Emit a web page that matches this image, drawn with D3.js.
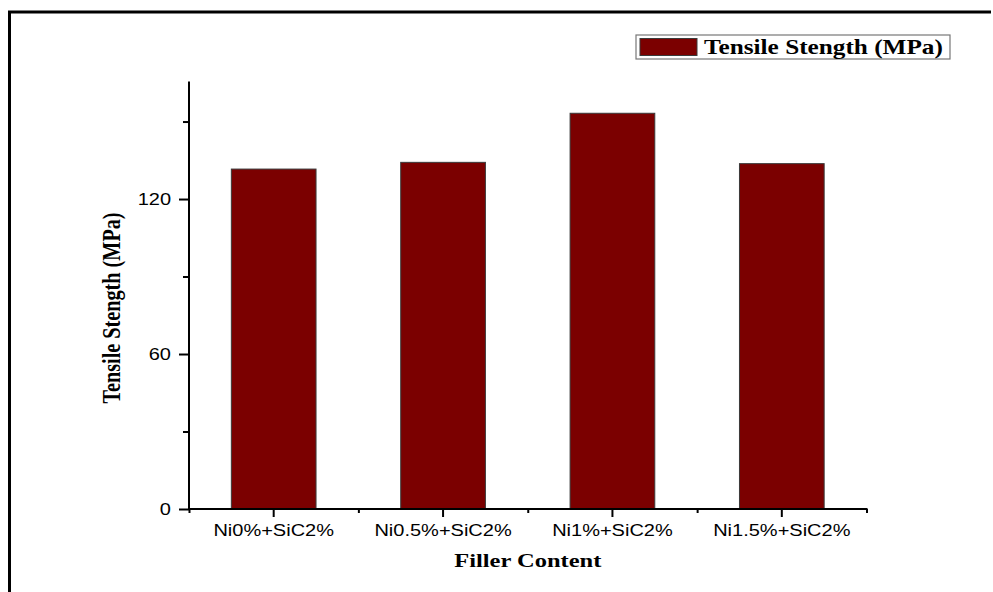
<!DOCTYPE html>
<html>
<head>
<meta charset="utf-8">
<script src="https://cdn.jsdelivr.net/npm/d3@7"></script>
<style>
  body { margin: 0; background: #fff; }
  svg { display: block; }
</style>
</head>
<body>
<svg id="chart" width="993" height="592"></svg>
<script>
const categories = ["Ni0%+SiC2%", "Ni0.5%+SiC2%", "Ni1%+SiC2%", "Ni1.5%+SiC2%"]
const strengthValues = [131.6, 134.2, 153.2, 133.7]
const yMajorTicks = [0, 60, 120]
const yMinorTicks = [30, 90, 150]
const seriesName = "Tensile Stength (MPa)"
const xTitle = "Filler Content"
const yTitle = "Tensile Stength (MPa)"

const svg = d3.select("#chart")
const sansFont = "'Liberation Sans', Arial, sans-serif"
const serifFont = "'Liberation Serif', 'Times New Roman', serif"
const stretch = 1.25 // glyphs in the source are widened horizontally
const barColor = "#7b0000"

const plot = { left: 189, right: 866.5, top: 81.5, bottom: 509 }

// page frame
svg.append("path")
  .attr("d", "M9.5,592 V12 H991")
  .attr("fill", "none")
  .attr("stroke", "#000")
  .attr("stroke-width", 3)

const x = d3.scaleBand()
  .domain(categories)
  .range([plot.left, plot.right])
  .paddingInner(0.5)
  .paddingOuter(0.25)

const xEdges = d3.scaleLinear()
  .domain([0, categories.length])
  .range([plot.left, plot.right])

const y = d3.scaleLinear()
  .domain([0, 165.5])
  .range([plot.bottom, plot.top])

// bars
svg.append("g")
  .selectAll("rect")
  .data(categories)
  .join("rect")
  .attr("x", (d) => x(d))
  .attr("y", (d, i) => y(strengthValues[i]))
  .attr("width", x.bandwidth())
  .attr("height", (d, i) => y(0) - y(strengthValues[i]))
  .attr("fill", barColor)
  .attr("stroke", "#3a3a3a")
  .attr("stroke-width", 1)

// x axis
let g_x = svg.append("g").attr("transform", `translate(0,${plot.bottom})`)
g_x.call(d3.axisBottom(x).tickSize(8).tickSizeOuter(0))
g_x.select(".domain").remove()
g_x.selectAll(".tick line").attr("stroke", "#000").attr("stroke-width", 2)
g_x.selectAll(".tick text")
  .attr("y", 27)
  .attr("dy", 0)
  .attr("font-family", sansFont)
  .attr("font-size", 16)
  .attr("fill", "#000")
  .attr("transform", `scale(${stretch},1)`)

let g_x_minor = svg.append("g").attr("transform", `translate(0,${plot.bottom})`)
g_x_minor.call(d3.axisBottom(xEdges).tickValues(d3.range(categories.length + 1)).tickSize(4).tickSizeOuter(0).tickFormat(""))
g_x_minor.select(".domain").remove()
g_x_minor.selectAll(".tick line").attr("stroke", "#000").attr("stroke-width", 2)

svg.append("line")
  .attr("x1", plot.left - 1)
  .attr("x2", plot.right + 1)
  .attr("y1", plot.bottom)
  .attr("y2", plot.bottom)
  .attr("stroke", "#000")
  .attr("stroke-width", 2)

// y axis
let g_y = svg.append("g").attr("transform", `translate(${plot.left},0)`)
g_y.call(d3.axisLeft(y).tickValues(yMajorTicks).tickSize(10).tickSizeOuter(0))
g_y.select(".domain").remove()
g_y.selectAll(".tick line").attr("stroke", "#000").attr("stroke-width", 2)
g_y.selectAll(".tick text")
  .attr("x", -18 / stretch)
  .attr("font-family", sansFont)
  .attr("font-size", 16)
  .attr("fill", "#000")
  .attr("transform", `scale(${stretch},1)`)

let g_y_minor = svg.append("g").attr("transform", `translate(${plot.left},0)`)
g_y_minor.call(d3.axisLeft(y).tickValues(yMinorTicks).tickSize(6).tickSizeOuter(0).tickFormat(""))
g_y_minor.select(".domain").remove()
g_y_minor.selectAll(".tick line").attr("stroke", "#000").attr("stroke-width", 2)

svg.append("line")
  .attr("x1", plot.left)
  .attr("x2", plot.left)
  .attr("y1", plot.top)
  .attr("y2", plot.bottom + 1)
  .attr("stroke", "#000")
  .attr("stroke-width", 2)

// axis titles
svg.append("text")
  .attr("transform", `translate(${(plot.left + plot.right) / 2},567) scale(${stretch},1)`)
  .attr("text-anchor", "middle")
  .attr("font-family", serifFont)
  .attr("font-weight", "bold")
  .attr("font-size", 19.6)
  .text(xTitle)

svg.append("text")
  .attr("transform", `translate(120,308) scale(${stretch},1) rotate(-90)`)
  .attr("text-anchor", "middle")
  .attr("font-family", serifFont)
  .attr("font-weight", "bold")
  .attr("font-size", 20.2)
  .text(yTitle)

// legend
let legend = svg.append("g").attr("class", "legend")
legend.append("rect")
  .attr("x", 636)
  .attr("y", 35)
  .attr("width", 314)
  .attr("height", 24)
  .attr("fill", "#fff")
  .attr("stroke", "#777")
  .attr("stroke-width", 1.2)
legend.append("rect")
  .attr("x", 640)
  .attr("y", 38.5)
  .attr("width", 57)
  .attr("height", 17)
  .attr("fill", barColor)
  .attr("stroke", "#3a3a3a")
  .attr("stroke-width", 1)
legend.append("text")
  .attr("transform", `translate(704,54) scale(${stretch},1)`)
  .attr("font-family", serifFont)
  .attr("font-weight", "bold")
  .attr("font-size", 20.2)
  .text(seriesName)
</script>
</body>
</html>
